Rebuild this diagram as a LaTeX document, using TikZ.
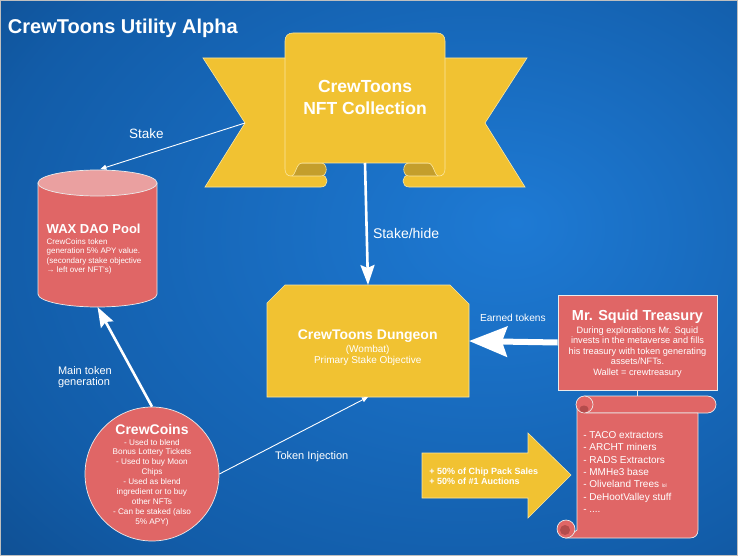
\documentclass[tikz,border=0pt]{standalone}
\usepackage{fontspec}
\setmainfont{Liberation Sans}
\usetikzlibrary{arrows.meta}
\definecolor{bgin}{RGB}{30,122,212}
\definecolor{bgmid1}{RGB}{18,92,168}
\definecolor{bgmid}{RGB}{12,66,125}
\definecolor{bgout}{RGB}{8,42,84}
\definecolor{ygold}{RGB}{241,194,50}
\definecolor{ydark}{RGB}{196,158,44}
\definecolor{yedge}{RGB}{250,230,160}
\definecolor{rred}{RGB}{224,102,102}
\definecolor{rpink}{RGB}{234,160,160}
\definecolor{rdark}{RGB}{180,76,76}
\definecolor{edgec}{RGB}{235,235,235}
\pgfdeclareradialshading{bgshade}{\pgfpoint{10bp}{5bp}}{color(0bp)=(bgin); color(32bp)=(bgmid1); color(50bp)=(bgmid); color(72bp)=(bgout)}
\tikzset{
  txt/.style={text=white, inner sep=0pt, outer sep=0pt},
  hid/.style={inner sep=0pt, outer sep=0pt},
  thinconn/.style={draw=white, line width=0.9pt, -{Triangle[length=6pt,width=5pt]}},
  thickconn/.style={draw=white, line width=2.6pt, -{Stealth[length=20pt,width=14pt,inset=3pt]}},
  bigconn/.style={draw=white, line width=6pt, -{Stealth[length=38pt,width=30pt,inset=5pt]}},
  redshape/.style={fill=rred, draw=edgec, line width=0.7pt},
  yshape/.style={fill=ygold, draw=yedge, line width=0.6pt},
}
\begin{document}
\begin{tikzpicture}[x=1pt,y=-1pt]
\useasboundingbox (0,0) rectangle (738,556);
\shade[shading=bgshade] (0,0) rectangle (738,556);
\draw[gray!50, line width=1pt] (0.5,0.5) rectangle (737.5,555.5);

\node[txt, anchor=base west, font=\fontsize{20}{24}\selectfont\bfseries] (title) at (8,34) {CrewToons Utility Alpha};

% ribbon tails
\filldraw[yshape] (203,58) -- (300,58) -- (300,175) -- (321,175) .. controls (329,175) and (329,187) .. (321,187) -- (205,187) -- (245,123) -- cycle;
\filldraw[yshape] (527,58) -- (430,58) -- (430,175) -- (409,175) .. controls (401,175) and (401,187) .. (409,187) -- (525,187) -- (485,123) -- cycle;
% curls
\filldraw[fill=ydark, draw=yedge, line width=0.6pt] (292,163) -- (321,163) .. controls (328,163) and (328,176) .. (321,176) -- (292,176) -- cycle;
\filldraw[fill=ydark, draw=yedge, line width=0.6pt] (438,163) -- (409,163) .. controls (402,163) and (402,176) .. (409,176) -- (438,176) -- cycle;
% panel
\filldraw[yshape] (291,176) .. controls (287,176) and (285,173) .. (285,169) -- (285,41) .. controls (285,36) and (288,33) .. (293,33) -- (437,33) .. controls (442,33) and (445,36) .. (445,41) -- (445,169) .. controls (445,173) and (443,176) .. (439,176) .. controls (434,176) and (434,163) .. (428,163) -- (302,163) .. controls (296,163) and (296,176) .. (291,176) -- cycle;
\node[hid, minimum width=160pt, minimum height=130pt] (banner) at (365,98) {};
\coordinate (notchL) at (245,123);
\node[txt, anchor=base, font=\fontsize{17.5}{21}\selectfont\bfseries] (bt1) at (365,92.7) {CrewToons};
\node[txt, anchor=base, font=\fontsize{17.5}{21}\selectfont\bfseries] (bt2) at (365,115) {NFT Collection};

% cylinder
\filldraw[redshape] (38,183) -- (38,294) arc[start angle=180, end angle=0, x radius=59.5, y radius=13] -- (157,183) -- cycle;
\filldraw[fill=rpink, draw=edgec, line width=0.7pt] (97.5,183) ellipse [x radius=59.5, y radius=13];
\node[hid, minimum width=119pt, minimum height=137pt] (wax) at (97.5,238.5) {};
\node[txt, anchor=base west, font=\fontsize{13}{15}\selectfont\bfseries] (wt0) at (46.7,233.3) {WAX DAO Pool};
\foreach \t [count=\i from 0] in {{CrewCoins token}, {generation 5\% APY value.}, {(secondary stake objective}, {→ left over NFT's)}}
  \node[txt, anchor=base west, font=\fontsize{8}{9.6}\selectfont] (wl\i) at (46.7,244+9.6*\i) {\t};

% dungeon
\filldraw[yshape] (267,303) -- (285,285) -- (450,285) -- (469,304) -- (469,397) -- (267,397) -- cycle;
\node[hid, minimum width=202pt, minimum height=112pt] (dungeon) at (368,341) {};
\node[txt, anchor=base, font=\fontsize{14}{16}\selectfont\bfseries] (dt1) at (367.7,339) {CrewToons Dungeon};
\node[txt, anchor=base, font=\fontsize{10}{12}\selectfont] (dt2) at (367.7,352.7) {(Wombat)};
\node[txt, anchor=base, font=\fontsize{10}{12}\selectfont] (dt3) at (367.7,363.3) {Primary Stake Objective};

% treasury
\node[redshape, minimum width=159pt, minimum height=95pt, inner sep=0pt] (treasury) at (637.5,342.5) {};
\node[txt, anchor=base, font=\fontsize{14.5}{17}\selectfont\bfseries] (tt0) at (637.5,320.7) {Mr. Squid Treasury};
\foreach \t [count=\i from 0] in {{During explorations Mr. Squid}, {invests in the metaverse and fills}, {his treasury with token generating}, {assets/NFTs.}, {Wallet = crewtreasury}}
  \node[txt, anchor=base, font=\fontsize{9.2}{11}\selectfont] (tl\i) at (637.5,333.3+10.5*\i) {\t};

% coins
\node[circle, redshape, minimum size=134pt, inner sep=0pt] (coins) at (152,474) {};
\node[txt, anchor=base, font=\fontsize{14}{16}\selectfont\bfseries] (ct0) at (152,434) {CrewCoins};
\foreach \t [count=\i from 0] in {{- Used to blend}, {Bonus Lottery Tickets}, {- Used to buy Moon}, {Chips}, {- Used as blend}, {ingredient or to buy}, {other NFTs}, {- Can be staked (also}, {5\% APY)}}
  \node[txt, anchor=base, font=\fontsize{8.2}{10}\selectfont] (cl\i) at (152,445+9.95*\i) {\t};

% scroll
\filldraw[redshape, rounded corners=8.5pt] (577,396) rectangle (716,413);
\filldraw[redshape] (577,405) -- (577,530) -- (566,538) -- (690,538) .. controls (695,538) and (698,535) .. (698,530) -- (698,413) -- (586,413) -- cycle;
\filldraw[redshape] (584.5,404.5) circle[radius=8.5];
\fill[rdark] (584,409) ellipse[x radius=4.5, y radius=3.5];
\filldraw[redshape] (566,529) circle[radius=9];
\fill[rdark] (565,530) circle[radius=5];
\node[hid, minimum width=139pt, minimum height=142pt] (scroll) at (646.5,467) {};
\node[txt, anchor=base west, font=\fontsize{10}{12}\selectfont] (sl0) at (583.3,438.3) {- TACO extractors};
\node[txt, anchor=base west, font=\fontsize{10}{12}\selectfont] (sl1) at (583.3,450.7) {- ARCHT miners};
\node[txt, anchor=base west, font=\fontsize{10}{12}\selectfont] (sl2) at (583.3,463.1) {- RADS Extractors};
\node[txt, anchor=base west, font=\fontsize{10}{12}\selectfont] (sl3) at (583.3,475.5) {- MMHe3 base};
\node[txt, anchor=base west, font=\fontsize{10}{12}\selectfont] (sl4) at (583.3,487.9) {- Oliveland Trees {\fontsize{5}{6}\selectfont lol}};
\node[txt, anchor=base west, font=\fontsize{10}{12}\selectfont] (sl5) at (583.3,500.3) {- DeHootValley stuff};
\node[txt, anchor=base west, font=\fontsize{10}{12}\selectfont] (sl6) at (583.3,512.7) {- ....};

% big arrow
\filldraw[yshape] (422,453) -- (528,453) -- (528,433) -- (571,475) -- (528,518) -- (528,498) -- (422,498) -- cycle;
\node[txt, anchor=base west, font=\fontsize{9}{10}\selectfont\bfseries] (ar1) at (429.3,474) {+ 50\% of Chip Pack Sales};
\node[txt, anchor=base west, font=\fontsize{9}{10}\selectfont\bfseries] (ar2) at (429.3,484.3) {+ 50\% of \#1 Auctions};

% connectors
\draw[thinconn, shorten >=3pt] (notchL) -- (wax.north);
\draw[thickconn] (banner.south) -- (dungeon.north);
\draw[thickconn] (coins.north) -- (wax.south);
\draw[thinconn] (coins.east) -- (dungeon.south);
\draw[bigconn] (treasury.west) -- (dungeon.east);
\draw[draw=edgec, line width=0.7pt] (treasury.south) -- (treasury.south |- scroll.north);

% labels
\node[txt, anchor=base west, font=\fontsize{13.5}{16}\selectfont] (lstake) at (129,139) {Stake};
\node[txt, anchor=base west, font=\fontsize{14}{16}\selectfont] (lhide) at (373,238) {Stake/hide};
\node[txt, anchor=base west, font=\fontsize{11}{13}\selectfont] (lmain1) at (58,374) {Main token};
\node[txt, anchor=base west, font=\fontsize{11}{13}\selectfont] (lmain2) at (58,385.5) {generation};
\node[txt, anchor=base west, font=\fontsize{11}{13}\selectfont] (linj) at (275,459) {Token Injection};
\node[txt, anchor=base west, font=\fontsize{10.2}{12}\selectfont] (learn) at (480,321) {Earned tokens};
\end{tikzpicture}
\end{document}
